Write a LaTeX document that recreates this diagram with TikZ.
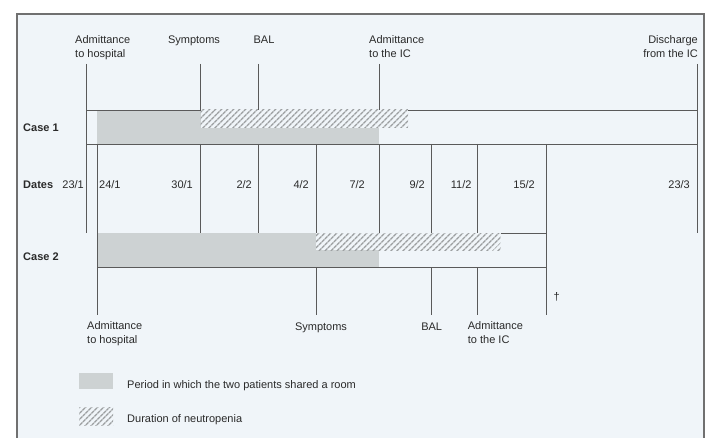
\documentclass[tikz,border=0pt]{standalone}
\usepackage{fontspec}
\setmainfont{Liberation Sans}
\usetikzlibrary{patterns.meta}
\definecolor{bgc}{HTML}{F0F5F9}
\definecolor{shared}{HTML}{CDD2D3}
\definecolor{hatchc}{HTML}{9C9FA1}
\definecolor{linec}{HTML}{5A5A5A}
\definecolor{framec}{HTML}{707070}
\definecolor{txt}{HTML}{2A2A2A}
\tikzset{
  lbl/.style={inner sep=0pt, font=\fontsize{11}{13.5}\selectfont, text=txt},
  bold lbl/.style={lbl, font=\fontsize{11}{13.5}\selectfont\bfseries},
  tick/.style={draw=linec, line width=0.9pt},
  sharedfill/.style={fill=shared},
  hatchfill/.style={pattern={Lines[angle=45,distance=4pt,line width=1.5pt]}, pattern color=hatchc},
}
\begin{document}
\begin{tikzpicture}[x=1pt,y=-1pt]
\useasboundingbox (0,0) rectangle (711,438);
\clip (0,0) rectangle (711,438);
% frame and background
\fill[white] (0,0) rectangle (711,438);
\draw[framec, line width=2pt, fill=bgc] (17,14) rectangle (704,460);

% ---------- Case 1 bar ----------
\fill[sharedfill] (97,110) rectangle (379,144);
\fill[bgc] (200.7,110) rectangle (408,128);
\fill[hatchfill] (200.7,110) rectangle (408,128);
\draw[tick] (86,110) -- (200.7,110);
\draw[tick] (408,110) -- (697,110);
\draw[tick] (86,144) -- (697,144);

% ---------- Case 2 bar ----------
\fill[sharedfill] (97,233) rectangle (379,267);
\fill[bgc] (316,233) rectangle (500.7,250);
\fill[hatchfill] (316,233) rectangle (500.7,250);
\draw[tick] (500.7,233) -- (546.7,233);
\draw[tick] (97,267) -- (546.7,267);

% ---------- vertical lines ----------
\draw[tick] (86,64) -- (86,233);
\draw[tick] (697,64) -- (697,233);
\draw[tick] (200.7,64) -- (200.7,110);
\draw[tick] (258,64) -- (258,110);
\draw[tick] (379,64) -- (379,110);
\foreach \x in {97,200.7,258,316,379,431.7,477.7}{
  \draw[tick] (\x,144) -- (\x,233);
}
\draw[tick] (97,233) -- (97,315);
\foreach \x in {316,431.7,477.7}{
  \draw[tick] (\x,267) -- (\x,315);
}
\draw[tick] (546.7,144) -- (546.7,315);

% ---------- top labels ----------
\node[lbl, align=left, anchor=north west] (t1) at (75,35.5) {Admittance\\to hospital};
\node[lbl, anchor=base] (t2) at (194,44) {Symptoms};
\node[lbl, anchor=base] (t3) at (264,44) {BAL};
\node[lbl, align=left, anchor=north west] (t4) at (369,35.5) {Admittance\\to the IC};
\node[lbl, align=right, anchor=north east] (t5) at (698,35.5) {Discharge\\from the IC};

% ---------- row labels ----------
\node[bold lbl, anchor=base west] (c1) at (23,132) {Case 1};
\node[bold lbl, anchor=base west] (dt) at (23,189) {Dates};
\node[bold lbl, anchor=base west] (c2) at (23,260) {Case 2};

% ---------- dates ----------
\node[lbl, anchor=base east] (d1) at (84,189) {23/1};
\node[lbl, anchor=base west] (d2) at (99,189) {24/1};
\node[lbl, anchor=base east] (d3) at (193,189) {30/1};
\node[lbl, anchor=base east] (d4) at (252,189) {2/2};
\node[lbl, anchor=base east] (d5) at (309,189) {4/2};
\node[lbl, anchor=base east] (d6) at (365,189) {7/2};
\node[lbl, anchor=base east] (d7) at (425,189) {9/2};
\node[lbl, anchor=base east] (d8) at (471.7,189) {11/2};
\node[lbl, anchor=base east] (d9) at (535,189) {15/2};
\node[lbl, anchor=base east] (d10) at (690,189) {23/3};

% ---------- bottom labels ----------
\node[lbl, anchor=base] (dag) at (556.7,300) {†};
\node[lbl, align=left, anchor=north west] (b1) at (87,321.5) {Admittance\\to hospital};
\node[lbl, anchor=base] (b2) at (321,330) {Symptoms};
\node[lbl, anchor=base] (b3) at (431.7,330) {BAL};
\node[lbl, align=left, anchor=north west] (b4) at (467.7,321.5) {Admittance\\to the IC};

% ---------- legend ----------
\fill[sharedfill] (79,373) rectangle (113,389);
\node[lbl, anchor=base west] (l1) at (127,388) {Period in which the two patients shared a room};
\fill[hatchfill] (79,407) rectangle (113,425);
\node[lbl, anchor=base west] (l2) at (127,422) {Duration of neutropenia};
\end{tikzpicture}
\end{document}
